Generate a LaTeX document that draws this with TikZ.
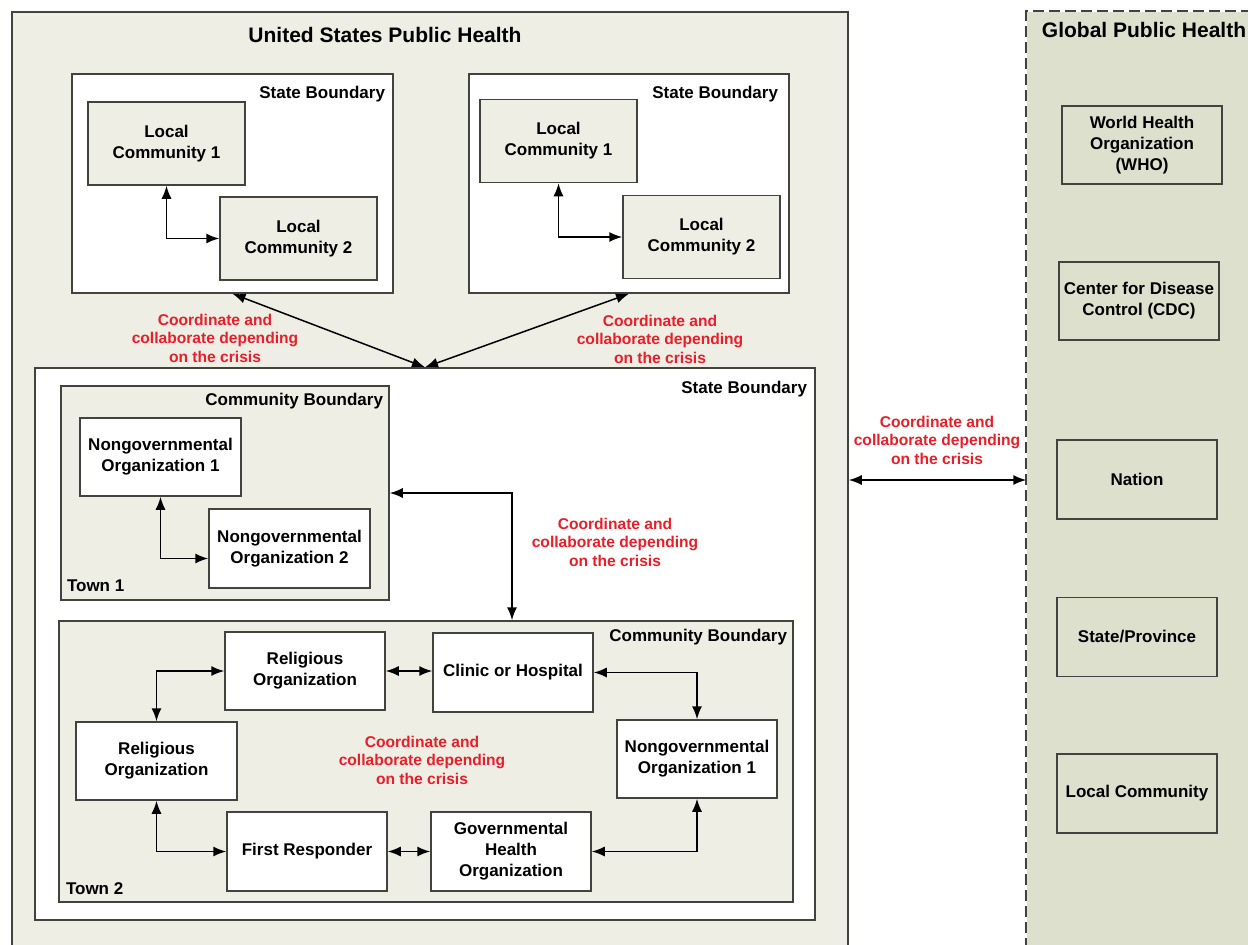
\documentclass[tikz,border=0pt]{standalone}
\usepackage{fontspec}
\setmainfont{Liberation Sans}
\usetikzlibrary{arrows.meta,positioning}

\definecolor{usbeige}{RGB}{238,238,229}
\definecolor{globgreen}{RGB}{221,224,205}
\definecolor{edgegray}{RGB}{66,66,62}
\definecolor{crisisred}{RGB}{232,30,42}

\newcommand{\orgfont}{\fontsize{17}{21}\selectfont\bfseries}
\newcommand{\headfont}{\fontsize{21}{25}\selectfont\bfseries}
\newcommand{\notefont}{\fontsize{15.6}{18.5}\selectfont\bfseries}

\tikzset{
  org/.style={draw=edgegray,line width=1.5pt,inner sep=0pt,align=center,font=\orgfont,
    minimum width=160pt,minimum height=79pt},
  orgwhite/.style={org,fill=white},
  orgbeige/.style={org,fill=usbeige,minimum width=157pt,minimum height=83pt},
  orgglob/.style={org,fill=globgreen},
  region/.style={draw=edgegray,line width=1.5pt,inner sep=0pt},
  tag/.style={font=\orgfont,inner sep=0pt},
  note/.style={font=\notefont,text=crisisred,align=center,inner sep=0pt},
  vh/.style={to path={|- (\tikztotarget)}},
  hv/.style={to path={-| (\tikztotarget)}},
  link/.style={{Latex[length=13pt,width=10pt]}-{Latex[length=13pt,width=10pt]}},
}

\begin{document}
\begin{tikzpicture}[x=1pt,y=-1pt,line width=1.5pt]
  \useasboundingbox (0,0) rectangle (1248,945);
  \fill[white] (0,0) rectangle (1248,945);
  \clip (0,0) rectangle (1248,945);

  % the two sides
  \node[region,fill=usbeige,minimum width=836pt,minimum height=936pt] (us) at (430,480) {};
  \node[fill=globgreen,inner sep=0pt,minimum width=235pt,minimum height=936pt] (global) at (1144.5,480) {};
  \draw[edgegray,line width=1.6pt,dash pattern=on 11pt off 5pt]
    (global.south west) -- (global.north west) -- (global.north east);
  \node[font=\headfont,inner sep=0pt,anchor=base] (ustitle) at (385,42) {United States Public Health};
  \node[font=\headfont,inner sep=0pt,anchor=base] (globtitle) at (1144,37.5) {Global Public Health};

  % upper states
  \node[region,fill=white,minimum width=321pt,minimum height=219pt] (sbA) at (232.5,183.5) {};
  \node[tag,anchor=base east] (sbAtag) at ([xshift=-8pt,yshift=-25pt]sbA.north east) {State Boundary};
  \node[orgbeige] (lcA1) at (166.5,143.5) {Local\\Community 1};
  \node[orgbeige] (lcA2) at (298.5,238.5) {Local\\Community 2};

  \node[region,fill=white,minimum width=320pt,minimum height=219pt] (sbB) at (629,183.5) {};
  \node[tag,anchor=base east] (sbBtag) at ([xshift=-11pt,yshift=-25pt]sbB.north east) {State Boundary};
  \node[orgbeige] (lcB1) at (558.5,141) {Local\\Community 1};
  \node[orgbeige] (lcB2) at (701.5,237) {Local\\Community 2};

  % lower state
  \node[region,fill=white,minimum width=780pt,minimum height=552pt] (sbC) at (425,644) {};
  \node[tag,anchor=base east] (sbCtag) at ([xshift=-8pt,yshift=-26pt]sbC.north east) {State Boundary};

  \node[region,fill=usbeige,minimum width=328pt,minimum height=214pt] (cbA) at (225,493) {};
  \node[tag,anchor=base east] (cbAtag) at ([xshift=-6pt,yshift=-20pt]cbA.north east) {Community Boundary};
  \node[tag,anchor=base west] (townA) at ([xshift=6pt,yshift=9pt]cbA.south west) {Town 1};
  \node[orgwhite,minimum width=161pt,minimum height=78pt] (ngoA1) at (160.5,457) {Nongovernmental\\Organization 1};
  \node[orgwhite,minimum width=161pt] (ngoA2) at (289.5,548.5) {Nongovernmental\\Organization 2};

  \node[region,fill=usbeige,minimum width=734pt,minimum height=281pt] (cbB) at (426,761.5) {};
  \node[tag,anchor=base east] (cbBtag) at ([xshift=-6pt,yshift=-21pt]cbB.north east) {Community Boundary};
  \node[tag,anchor=base west] (townB) at ([xshift=7pt,yshift=8pt]cbB.south west) {Town 2};
  \node[orgwhite,minimum height=78pt] (relT) at (305,671) {Religious\\Organization};
  \node[orgwhite] (clinic) at (513,672.5) {Clinic or Hospital};
  \node[orgwhite,minimum width=161pt,minimum height=78pt] (relL) at (156.5,761) {Religious\\Organization};
  \node[orgwhite,minimum height=78pt] (ngoB) at (697,759) {Nongovernmental\\Organization 1};
  \node[orgwhite] (first) at (307,851.5) {First Responder};
  \node[orgwhite] (gov) at (511,851.5) {Governmental\\Health\\Organization};

  % global column
  \node[orgglob,minimum height=78pt] (who) at (1142,145) {World Health\\Organization\\(WHO)};
  \node[orgglob,minimum height=78pt] (cdc) at (1139,301) {Center for Disease\\Control (CDC)};
  \node[orgglob] (nation) at (1137,479.5) {Nation};
  \node[orgglob] (province) [below=77pt of nation] {State/Province};
  \node[orgglob] (localc) [below=76pt of province] {Local Community};

  % red notes
  \node[note] (noteA) at (215,338) {Coordinate and\\collaborate depending\\on the crisis};
  \node[note] (noteB) at (660,339) {Coordinate and\\collaborate depending\\on the crisis};
  \node[note] (noteC) at (615,542) {Coordinate and\\collaborate depending\\on the crisis};
  \node[note] (noteD) at (422,760) {Coordinate and\\collaborate depending\\on the crisis};
  \node[note] (noteE) at (937,440) {Coordinate and\\collaborate depending\\on the crisis};

  \path[black,every edge/.append style={link}]
    (lcA1) edge[vh] (lcA2)
    (lcB1) edge[vh] (lcB2)
    (sbA.south) edge (sbC.north)
    (sbB.south) edge (sbC.north)
    (us) edge (global)
    (ngoA1) edge[vh] ([yshift=-10pt]ngoA2.west)
    (cbA) edge[hv] ([xshift=86pt]cbB.north)
    (relL) edge[vh] (relT)
    (relT) edge (relT -| clinic.west)
    (clinic) edge[hv] (ngoB)
    (relL) edge[vh] (first)
    (first) edge (gov)
    (gov) edge[hv] (ngoB);
\end{tikzpicture}
\end{document}
